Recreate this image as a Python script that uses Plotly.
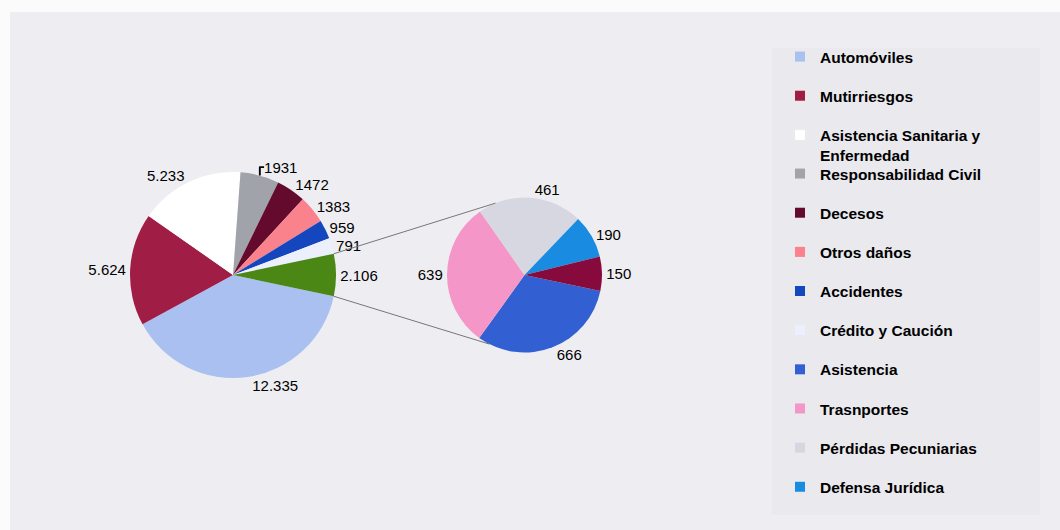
import math
import plotly.graph_objects as go

W, H = 1060, 530

# ---------------- data ----------------
main_labels = ["Automóviles", "Mutirriesgos", "Asistencia Sanitaria y Enfermedad",
               "Responsabilidad Civil", "Decesos", "Otros daños", "Accidentes",
               "Crédito y Caución", "Otros"]
main_values = [12335, 5624, 5233, 1931, 1472, 1383, 959, 791, 2106]
main_text = ["12.335", "5.624", "5.233", "1931", "1472", "1383", "959", "791", "2.106"]

sec_labels = ["Asistencia", "Trasnportes", "Pérdidas Pecuniarias", "Defensa Jurídica", "Otros ramos"]
sec_values = [666, 639, 461, 190, 150]
sec_text = ["666", "639", "461", "190", "150"]

legend_labels = ["Automóviles", "Mutirriesgos", "Asistencia Sanitaria y<br>Enfermedad",
                 "Responsabilidad Civil", "Decesos", "Otros daños", "Accidentes",
                 "Crédito y Caución", "Asistencia", "Trasnportes",
                 "Pérdidas Pecuniarias", "Defensa Jurídica"]

# ---------------- styles ----------------
main_colors = ["#a9c0f0", "#a01e46", "#ffffff", "#a0a3aa", "#640a2d", "#fa828c",
               "#1446be", "#ebf0fc", "#4b8714"]
sec_colors = ["#325fd2", "#f596c8", "#d7d7e1", "#198ce1", "#870a3c"]
legend_colors = main_colors[:8] + sec_colors[:4]

FONT = "Liberation Sans, Arial, sans-serif"

MAIN_C, MAIN_R = (233.0, 275.0), 103.0
SEC_C, SEC_R = (524.5, 275.0), 77.5


def domain(c, r):
    cx, cy = c
    return dict(x=[(cx - r) / W, (cx + r) / W], y=[1 - (cy + r) / H, 1 - (cy - r) / H])


def px_to_paper(x, y):
    return x / W, 1 - y / H


total = sum(main_values)
other_frac = main_values[-1] / total
rotation = 90 + other_frac * 180  # centre the "other" slice on the right

label_font = dict(family=FONT, size=15, color="#000000")

fig = go.Figure()
fig.add_trace(go.Pie(
    labels=main_labels, values=main_values, text=main_text,
    textinfo="text", textposition="outside", sort=False, direction="clockwise",
    rotation=rotation, domain=domain(MAIN_C, MAIN_R), showlegend=False,
    marker=dict(colors=main_colors, line=dict(width=0)),
    outsidetextfont=label_font, hoverinfo="label+value",
))
fig.add_trace(go.Pie(
    labels=sec_labels, values=sec_values, text=sec_text,
    textinfo="text", textposition="outside", sort=False, direction="clockwise",
    rotation=rotation, domain=domain(SEC_C, SEC_R), showlegend=False,
    marker=dict(colors=sec_colors, line=dict(width=0)),
    outsidetextfont=label_font, hoverinfo="label+value",
))

# legend entries (two legends to reproduce the uneven spacing)
for i, (lab, col) in enumerate(zip(legend_labels, legend_colors)):
    fig.add_trace(go.Scatter(
        x=[None], y=[None], mode="markers", name=lab,
        marker=dict(symbol="square", size=10, color=col),
        legendgroup=f"g{i}", legend="legend" if i < 3 else "legend2",
        hoverinfo="skip",
    ))

# connector lines between the "other" slice and the secondary pie
a_top = math.radians(90 - other_frac * 180)
a_bot = math.radians(90 + other_frac * 180)
p1 = (MAIN_C[0] + MAIN_R * math.sin(a_top), MAIN_C[1] - MAIN_R * math.cos(a_top))
p2 = (MAIN_C[0] + MAIN_R * math.sin(a_bot), MAIN_C[1] - MAIN_R * math.cos(a_bot))
b_top = math.radians(-22)
b_bot = math.radians(207)
q1 = (SEC_C[0] + SEC_R * math.sin(b_top), SEC_C[1] - SEC_R * math.cos(b_top))
q2 = (SEC_C[0] + SEC_R * math.sin(b_bot), SEC_C[1] - SEC_R * math.cos(b_bot))

shapes = [
    dict(type="rect", xref="paper", yref="paper", x0=10 / W, x1=1, y0=0, y1=1 - 12 / H,
         fillcolor="#eeeef2", line=dict(width=0), layer="below"),
    dict(type="rect", xref="paper", yref="paper", x0=772 / W, x1=1040 / W,
         y0=1 - 515 / H, y1=1 - 48 / H, fillcolor="#e9e9ee", line=dict(width=0), layer="below"),
]
for a, b in ((p1, q1), (p2, q2)):
    x0, y0 = px_to_paper(*a)
    x1, y1 = px_to_paper(*b)
    shapes.append(dict(type="line", xref="paper", yref="paper", x0=x0, y0=y0, x1=x1, y1=y1,
                       line=dict(color="#777777", width=1)))

legend_common = dict(
    xanchor="left", yanchor="top", bgcolor="rgba(0,0,0,0)", borderwidth=0,
    font=dict(family=FONT, size=15.5, color="#000000", weight="bold"), tracegroupgap=16,
    itemsizing="trace", valign="top", traceorder="grouped",
)

fig.update_layout(
    width=W, height=H,
    margin=dict(l=0, r=0, t=0, b=0),
    paper_bgcolor="#fbfbfb", plot_bgcolor="rgba(0,0,0,0)",
    xaxis=dict(visible=False), yaxis=dict(visible=False),
    shapes=shapes,
    legend=dict(x=780 / W, y=1 - 40 / H, **legend_common),
    legend2=dict(x=780 / W, y=1 - 157 / H, **legend_common),
    font=dict(family=FONT),
)

fig.write_html("out.html")
